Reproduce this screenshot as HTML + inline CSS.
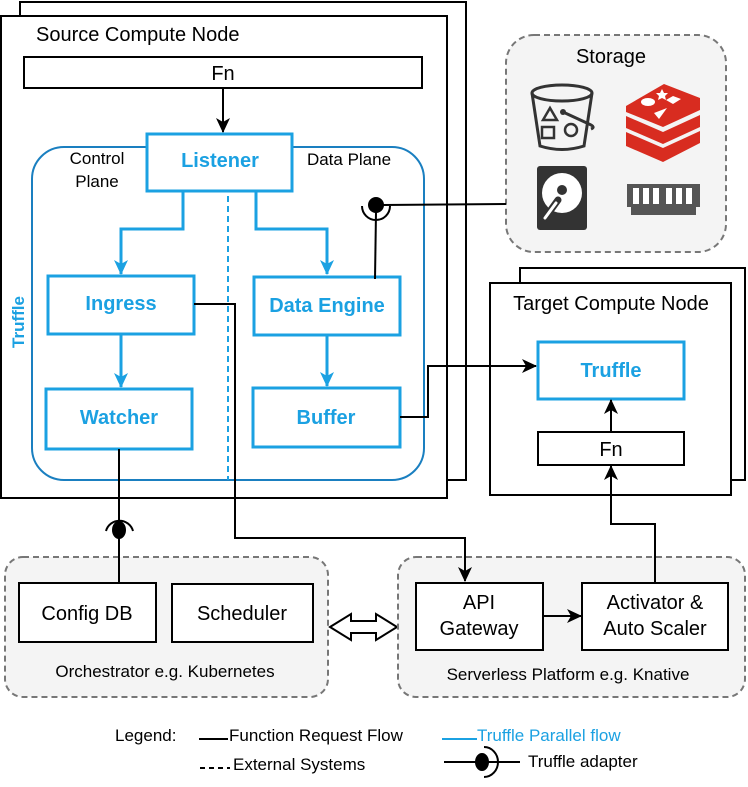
<!DOCTYPE html>
<html><head><meta charset="utf-8"><style>
html,body{margin:0;padding:0;background:#fff}
svg{display:block}
text{font-family:"Liberation Sans",sans-serif}
.b{font-weight:bold;fill:#1BA1E2}
</style></head><body>
<svg width="748" height="787" viewBox="0 0 748 787" xmlns="http://www.w3.org/2000/svg">
<defs>
<marker id="ak" markerWidth="16" markerHeight="16" refX="14" refY="8" orient="auto" markerUnits="userSpaceOnUse"><path d="M0,1 L15,8 L0,15 L4,8 z" fill="#000"/></marker>
<marker id="ab" markerWidth="16" markerHeight="16" refX="14" refY="8" orient="auto" markerUnits="userSpaceOnUse"><path d="M0,1 L15,8 L0,15 L4,8 z" fill="#1BA1E2"/></marker>
</defs>
<!-- Source node -->
<rect x="20" y="2" width="446" height="478" fill="#fff" stroke="#000" stroke-width="2"/>
<rect x="1" y="16" width="446" height="482" fill="#fff" stroke="#000" stroke-width="2"/>
<text x="36" y="41" font-size="20">Source Compute Node</text>
<rect x="24" y="57" width="398" height="31" fill="#fff" stroke="#000" stroke-width="2"/>
<text x="223" y="80" font-size="20" text-anchor="middle">Fn</text>
<rect x="32" y="147" width="392" height="333" rx="32" fill="none" stroke="#1a7fc0" stroke-width="2"/>
<text x="97" y="164" font-size="17" text-anchor="middle">Control</text>
<text x="97" y="187" font-size="17" text-anchor="middle">Plane</text>
<text x="349" y="165" font-size="17" text-anchor="middle">Data Plane</text>
<line x1="228" y1="196" x2="228" y2="480" stroke="#1BA1E2" stroke-width="2" stroke-dasharray="6,4"/>
<text transform="translate(24,322) rotate(-90)" font-size="17" text-anchor="middle" class="b">Truffle</text>
<rect x="147" y="134" width="145" height="57" fill="#fff" stroke="#1BA1E2" stroke-width="3"/>
<text x="220" y="167" font-size="20" text-anchor="middle" class="b">Listener</text>
<path d="M183,191 V229 H121 V274" fill="none" stroke="#1BA1E2" stroke-width="3" marker-end="url(#ab)"/>
<path d="M256,191 V229 H327 V274" fill="none" stroke="#1BA1E2" stroke-width="3" marker-end="url(#ab)"/>
<rect x="48" y="276" width="146" height="58" fill="#fff" stroke="#1BA1E2" stroke-width="3"/>
<text x="121" y="310" font-size="20" text-anchor="middle" class="b">Ingress</text>
<rect x="254" y="277" width="146" height="58" fill="#fff" stroke="#1BA1E2" stroke-width="3"/>
<text x="327" y="312" font-size="20" text-anchor="middle" class="b">Data Engine</text>
<line x1="121" y1="335" x2="121" y2="387" stroke="#1BA1E2" stroke-width="3" marker-end="url(#ab)"/>
<line x1="327" y1="336" x2="327" y2="386" stroke="#1BA1E2" stroke-width="3" marker-end="url(#ab)"/>
<rect x="46" y="389" width="146" height="60" fill="#fff" stroke="#1BA1E2" stroke-width="3"/>
<text x="119" y="424" font-size="20" text-anchor="middle" class="b">Watcher</text>
<rect x="253" y="388" width="147" height="59" fill="#fff" stroke="#1BA1E2" stroke-width="3"/>
<text x="326" y="424" font-size="20" text-anchor="middle" class="b">Buffer</text>
<!-- Storage -->
<rect x="506" y="35" width="220" height="217" rx="28" fill="#f4f4f4" stroke="#777" stroke-width="2" stroke-dasharray="6,4"/>
<text x="611" y="63" font-size="20" text-anchor="middle">Storage</text>
<g fill="none" stroke="#333" stroke-width="3">
<ellipse cx="562" cy="93" rx="30" ry="8"/>
<path d="M532,93 L540,146 Q562,153 584,146 L592,93"/>
<path d="M563,112 L589,124 Q596,127 591,129"/>
<path d="M543,120 L550,108 L557,120 z" stroke-width="2.5"/>
<rect x="542" y="127" width="12" height="11" stroke-width="2.5"/>
<circle cx="571" cy="130" r="6" stroke-width="2.5"/>
</g>
<circle cx="563" cy="112" r="3" fill="#333"/>
<g fill="#d82c20">
<path d="M626,106 L664,84 L700,98 L700,110 L663,127 L626,112 z"/>
<path d="M626,116 L663,132 L700,115 L700,127 L663,144 L626,128 z"/>
<path d="M626,132 L663,148 L700,131 L700,143 L663,162 L626,146 z"/>
</g>
<g fill="#fff"><ellipse cx="648" cy="102" rx="7" ry="4"/><path d="M673,96 L681,99 L673,104 L666,100 z"/><path d="M654,113 L667,108 L659,119 z"/><path d="M662,89 l2,4 4,0 -3,3 1,4 -4,-2 -4,2 1,-4 -3,-3 4,0z"/></g>
<rect x="537" y="166" width="50" height="64" rx="3" fill="#333"/>
<circle cx="562" cy="193" r="20" fill="#fff"/>
<circle cx="562" cy="190" r="5" fill="#333"/>
<path d="M545,218 L558,200" stroke="#333" stroke-width="7" stroke-linecap="round"/>
<path d="M545,218 L556,203" stroke="#fff" stroke-width="3" stroke-linecap="round"/>
<rect x="627" y="184" width="73" height="23" fill="#555"/>
<rect x="631" y="207" width="65" height="8" fill="#555"/>
<g fill="#fff"><rect x="633" y="188" width="6" height="16"/><rect x="643" y="188" width="6" height="16"/><rect x="653" y="188" width="6" height="16"/><rect x="666" y="188" width="6" height="16"/><rect x="676" y="188" width="6" height="16"/><rect x="686" y="188" width="6" height="16"/></g>
<!-- Target node -->
<rect x="520" y="268" width="225" height="212" fill="#fff" stroke="#000" stroke-width="2"/>
<rect x="490" y="283" width="241" height="212" fill="#fff" stroke="#000" stroke-width="2"/>
<text x="611" y="310" font-size="20" text-anchor="middle">Target Compute Node</text>
<rect x="538" y="342" width="146" height="57" fill="#fff" stroke="#1BA1E2" stroke-width="3"/>
<text x="611" y="377" font-size="20" text-anchor="middle" class="b">Truffle</text>
<rect x="538" y="432" width="146" height="33" fill="#fff" stroke="#000" stroke-width="2"/>
<text x="611" y="456" font-size="20" text-anchor="middle">Fn</text>
<!-- Orchestrator -->
<rect x="5" y="557" width="323" height="140" rx="18" fill="#f4f4f4" stroke="#777" stroke-width="2" stroke-dasharray="6,4"/>
<rect x="19" y="583" width="137" height="59" fill="#fff" stroke="#000" stroke-width="2"/>
<text x="87" y="620" font-size="20" text-anchor="middle">Config DB</text>
<rect x="172" y="584" width="141" height="58" fill="#fff" stroke="#000" stroke-width="2"/>
<text x="242" y="620" font-size="20" text-anchor="middle">Scheduler</text>
<text x="165" y="677" font-size="17" text-anchor="middle">Orchestrator e.g. Kubernetes</text>
<path d="M330,627 L351,614 L351,621 L376,621 L376,614 L397,627 L376,640 L376,633 L351,633 L351,640 z" fill="#fff" stroke="#000" stroke-width="2"/>
<!-- Serverless -->
<rect x="398" y="557" width="347" height="140" rx="18" fill="#f4f4f4" stroke="#777" stroke-width="2" stroke-dasharray="6,4"/>
<rect x="416" y="583" width="127" height="67" fill="#fff" stroke="#000" stroke-width="2"/>
<text x="479" y="609" font-size="20" text-anchor="middle">API</text>
<text x="479" y="635" font-size="20" text-anchor="middle">Gateway</text>
<rect x="582" y="583" width="146" height="67" fill="#fff" stroke="#000" stroke-width="2"/>
<text x="655" y="609" font-size="20" text-anchor="middle">Activator &amp;</text>
<text x="655" y="635" font-size="20" text-anchor="middle">Auto Scaler</text>
<text x="568" y="680" font-size="17" text-anchor="middle">Serverless Platform e.g. Knative</text>
<!-- connectors -->
<line x1="223" y1="88" x2="223" y2="132" stroke="#000" stroke-width="2" marker-end="url(#ak)"/>
<line x1="376" y1="212" x2="375" y2="279" stroke="#000" stroke-width="2"/>
<line x1="383" y1="205" x2="506" y2="204" stroke="#000" stroke-width="2"/>
<path d="M362,206 A14,14 0 0 0 390,206" fill="none" stroke="#000" stroke-width="2"/>
<circle cx="376" cy="205" r="8" fill="#000"/>
<path d="M194,304 H235 V538 H465 V581" fill="none" stroke="#000" stroke-width="2" marker-end="url(#ak)"/>
<path d="M400,417 H428 V366 H536" fill="none" stroke="#000" stroke-width="2" marker-end="url(#ak)"/>
<line x1="119" y1="449" x2="119" y2="583" stroke="#000" stroke-width="2"/>
<path d="M106,531 A14,14 0 0 1 133,531" fill="none" stroke="#000" stroke-width="2"/>
<ellipse cx="119" cy="530" rx="7" ry="9" fill="#000"/>
<line x1="611" y1="432" x2="611" y2="400" stroke="#000" stroke-width="2" marker-end="url(#ak)"/>
<path d="M655,583 V524 H611 V466" fill="none" stroke="#000" stroke-width="2" marker-end="url(#ak)"/>
<line x1="543" y1="616" x2="581" y2="616" stroke="#000" stroke-width="2" marker-end="url(#ak)"/>
<!-- Legend -->
<text x="115" y="741" font-size="17">Legend:</text>
<line x1="199" y1="739" x2="228" y2="739" stroke="#000" stroke-width="2"/>
<text x="229" y="741" font-size="17">Function Request Flow</text>
<line x1="442" y1="739" x2="477" y2="739" stroke="#1BA1E2" stroke-width="2"/>
<text x="477" y="741" font-size="17" fill="#1BA1E2">Truffle Parallel flow</text>
<line x1="200" y1="768" x2="230" y2="768" stroke="#000" stroke-width="2" stroke-dasharray="5,4"/>
<text x="233" y="770" font-size="17">External Systems</text>
<line x1="444" y1="762" x2="520" y2="762" stroke="#000" stroke-width="2"/>
<ellipse cx="482" cy="762" rx="7" ry="9" fill="#000"/>
<path d="M484,747 A14,15 0 0 1 484,777" fill="none" stroke="#000" stroke-width="2"/>
<text x="528" y="767" font-size="17">Truffle adapter</text>
</svg>
</body></html>
